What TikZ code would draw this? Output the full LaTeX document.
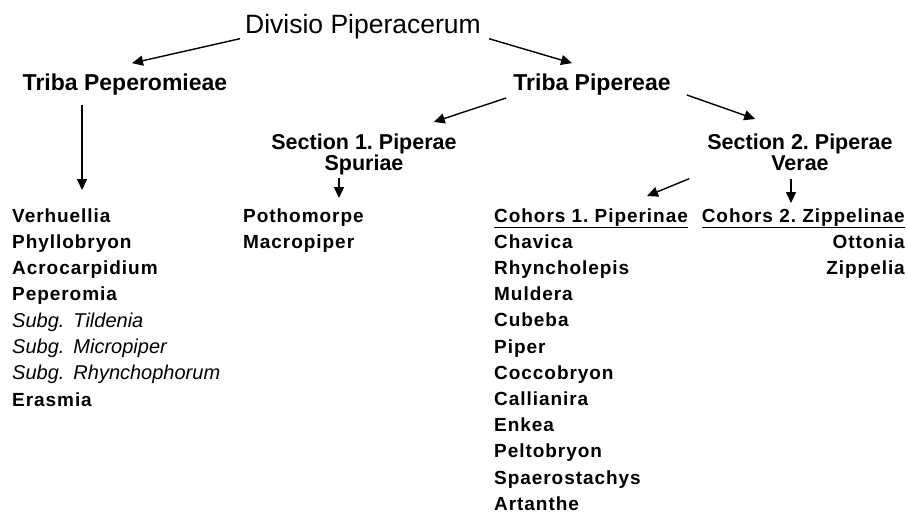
\documentclass[tikz,border=0pt]{standalone}
\usepackage{fontspec}
\setmainfont{Liberation Sans}
\newfontfamily\listfont[LetterSpace=5]{Liberation Sans}
\usetikzlibrary{arrows.meta}
\frenchspacing

\tikzset{
	item/.style={anchor=base west, inner sep=0pt, font=\listfont\bfseries\fontsize{19}{19}\selectfont},
	itemr/.style={item, anchor=base east},
	triba/.style={anchor=base, inner sep=0pt, font=\bfseries\fontsize{23}{23}\selectfont},
	sect/.style={anchor=north, inner sep=0pt, align=center, font=\bfseries\fontsize{21.5}{20.5}\selectfont},
	arr/.style={line width=1.4pt, -{Triangle[length=11pt,width=10pt]}}
}
\newcommand{\subg}[1]{{\normalfont\itshape\fontsize{20}{20}\selectfont Subg.\hspace{0.45em}#1}}

\begin{document}
\begin{tikzpicture}[x=1pt, y=-1pt]
	\useasboundingbox (0,0) rectangle (907,515);

	\node [anchor=base, inner sep=0pt, font=\fontsize{26.5}{26.5}\selectfont] (divisio) at (363, 33) {Divisio Piperacerum};

	\node [triba] (tpep) at (125, 90) {Triba Peperomieae};
	\node [triba] (tpip) at (592, 90) {Triba Pipereae};

	\node [sect] (sec1) at (364, 134) {Section 1. Piperae\\Spuriae};
	\node [sect] (sec2) at (800, 134) {Section 2. Piperae\\Verae};

	% genera
	\foreach \g [count=\i from 0] in {Verhuellia, Phyllobryon, Acrocarpidium, Peperomia, \subg{Tildenia}, \subg{Micropiper}, \subg{Rhynchophorum}, Erasmia}
		\node [item] (pep\i) at (12, 222+26.3*\i) {\g};

	\foreach \g [count=\i from 0] in {Pothomorpe, Macropiper}
		\node [item] (spu\i) at (243, 222+26.3*\i) {\g};

	\node [item] (coh1) at (494, 222) {\underline{Cohors 1. Piperinae}};
	\foreach \g [count=\i from 1] in {Chavica, Rhyncholepis, Muldera, Cubeba, Piper, Coccobryon, Callianira, Enkea, Peltobryon, Spaerostachys, Artanthe}
		\node [item] (pip\i) at (494, 222+26.2*\i) {\g};

	\node [itemr] (coh2) at (905, 222) {\underline{Cohors 2. Zippelinae}};
	\foreach \g [count=\i from 1] in {Ottonia, Zippelia}
		\node [itemr] (zip\i) at (905, 222+26.2*\i) {\g};

	% arrows
	\draw [arr] ([xshift=-5pt]divisio.south west) -- ([xshift=7pt, yshift=10pt]tpep.north);
	\draw [arr] ([xshift=8pt]divisio.south east) -- ([xshift=-20pt, yshift=10pt]tpip.north);

	\draw [arr, shorten <=10pt, shorten >=18pt] ([xshift=-43pt]tpep.south) -- ([xshift=-43pt]tpep.south |- pep0.north);

	\draw [arr] ([xshift=-7pt, yshift=-3pt]tpip.south west) -- ([xshift=-23pt, yshift=12pt]sec1.north east);
	\draw [arr] ([xshift=16pt]tpip.south east) -- ([xshift=48pt, yshift=15pt]sec2.north west);

	\draw [arr, shorten <=3pt, shorten >=10pt] ([xshift=-25pt]sec1.south) -- ([xshift=-25pt]sec1.south |- spu0.north);

	\draw [arr] ([xshift=-18pt, yshift=-8pt]sec2.south west) -- ([xshift=56pt, yshift=12pt]coh1.north);
	\draw [arr, shorten <=8pt, shorten >=5pt] ([xshift=-9pt]sec2.south) -- ([xshift=-9pt]sec2.south |- coh2.north);
\end{tikzpicture}
\end{document}
